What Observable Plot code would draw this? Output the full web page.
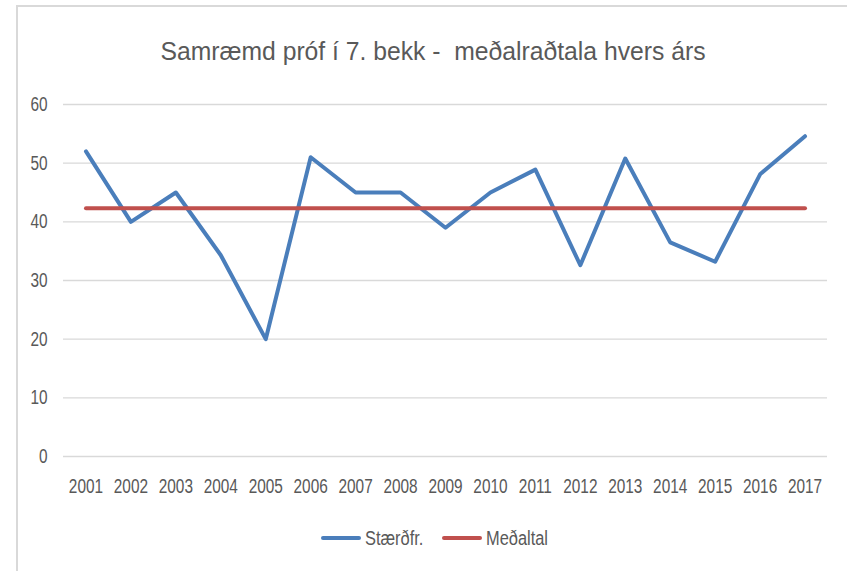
<!DOCTYPE html>
<html>
<head>
<meta charset="utf-8">
<script src="https://cdn.jsdelivr.net/npm/d3@7"></script>
<script src="https://cdn.jsdelivr.net/npm/@observablehq/plot@0.6"></script>
<style>
  html, body { margin: 0; padding: 0; background: #fff; }
  body { width: 847px; height: 571px; position: relative; overflow: hidden;
         font-family: "Liberation Sans", Arial, sans-serif; color: #595959; }
  #frame { position: absolute; left: 16px; top: 5px; width: 900px; height: 700px;
           border-left: 2px solid #d9d9d9; border-top: 2px solid #d9d9d9; box-sizing: border-box; }
  #title { position: absolute; left: 19px; width: 828px; top: 34px; text-align: center;
           font-size: 26px; line-height: 34px; color: #595959; white-space: pre;
           transform: scaleX(0.95); transform-origin: 414px 0; }
  #chart { position: absolute; left: 0; top: 80px; }
  #legend { position: absolute; top: 526px; left: 0; width: 847px; height: 24px; }
  .item { position: absolute; top: 0; display: flex; align-items: center; font-size: 20px; height: 24px; color: #595959; }
  .swatch { width: 40px; height: 4px; border-radius: 2px; margin-right: 4px; flex: none; }
  .lbl { display: inline-block; transform: scaleX(0.82); transform-origin: 0 50%; }
</style>
</head>
<body>
<div id="frame"></div>
<div id="title">Samræmd próf í 7. bekk -  meðalraðtala hvers árs</div>
<div id="chart"></div>
<div id="legend"></div>
<script>
const years = ["2001","2002","2003","2004","2005","2006","2007","2008","2009","2010","2011","2012","2013","2014","2015","2016","2017"];
const staerdfr = [52, 40, 45, 34.3, 20, 51, 45, 45, 39, 45, 48.9, 32.6, 50.8, 36.5, 33.2, 48.1, 54.6];
const medaltal = [42.3, 42.3, 42.3, 42.3, 42.3, 42.3, 42.3, 42.3, 42.3, 42.3, 42.3, 42.3, 42.3, 42.3, 42.3, 42.3, 42.3];
const yTicks = [0, 10, 20, 30, 40, 50, 60];
const seriesNames = ["Stærðfr.", "Meðaltal"];
const seriesColors = ["#4a7ebb", "#c0504d"];

const rows = years.flatMap((y, i) => [
  {year: y, value: staerdfr[i], series: seriesNames[0]},
  {year: y, value: medaltal[i], series: seriesNames[1]}
]);

const chart = Plot.plot({
  width: 847,
  height: 430,
  marginLeft: 63,
  marginRight: 20,
  marginTop: 24,
  marginBottom: 54,
  style: {fontFamily: "'Liberation Sans', Arial, sans-serif", fontSize: "20px", color: "#595959", background: "none"},
  x: {type: "point", domain: years, padding: 0.5, round: false, label: null},
  y: {domain: [0, 60], ticks: yTicks, label: null},
  color: {domain: seriesNames, range: seriesColors},
  marks: [
    Plot.ruleY(yTicks, {stroke: "#d9d9d9", strokeWidth: 1.3}),
    Plot.axisY({ticks: yTicks, tickSize: 0, tickPadding: 16, label: null, fill: "#595959", fontSize: 20}),
    Plot.axisX({tickSize: 0, tickPadding: 22, label: null, fill: "#595959", fontSize: 20}),
    Plot.line(rows, {x: "year", y: "value", z: "series", stroke: "series", strokeWidth: 4, strokeLinecap: "round", strokeLinejoin: "round"})
  ]
});
document.getElementById("chart").appendChild(chart);

// Condense tick label glyphs horizontally, keeping each label's anchor point fixed
const sx = 0.77;
chart.querySelectorAll("text").forEach(t => {
  const tr = t.getAttribute("transform") || "";
  const dxAttr = t.getAttribute("dx");
  if (dxAttr !== null && !isNaN(+dxAttr)) t.setAttribute("dx", +dxAttr / sx);
  const xAttr = t.getAttribute("x");
  if (xAttr !== null && !isNaN(+xAttr)) t.setAttribute("x", +xAttr / sx);
  t.setAttribute("transform", `${tr} scale(${sx},1)`);
});

const legend = document.getElementById("legend");
const lefts = [321, 442];
seriesNames.forEach((name, i) => {
  const item = document.createElement("div");
  item.className = "item";
  item.style.left = lefts[i] + "px";
  const sw = document.createElement("div");
  sw.className = "swatch";
  sw.style.background = seriesColors[i];
  item.appendChild(sw);
  const t = document.createElement("span");
  t.className = "lbl";
  t.textContent = name;
  item.appendChild(t);
  legend.appendChild(item);
});
</script>
</body>
</html>
